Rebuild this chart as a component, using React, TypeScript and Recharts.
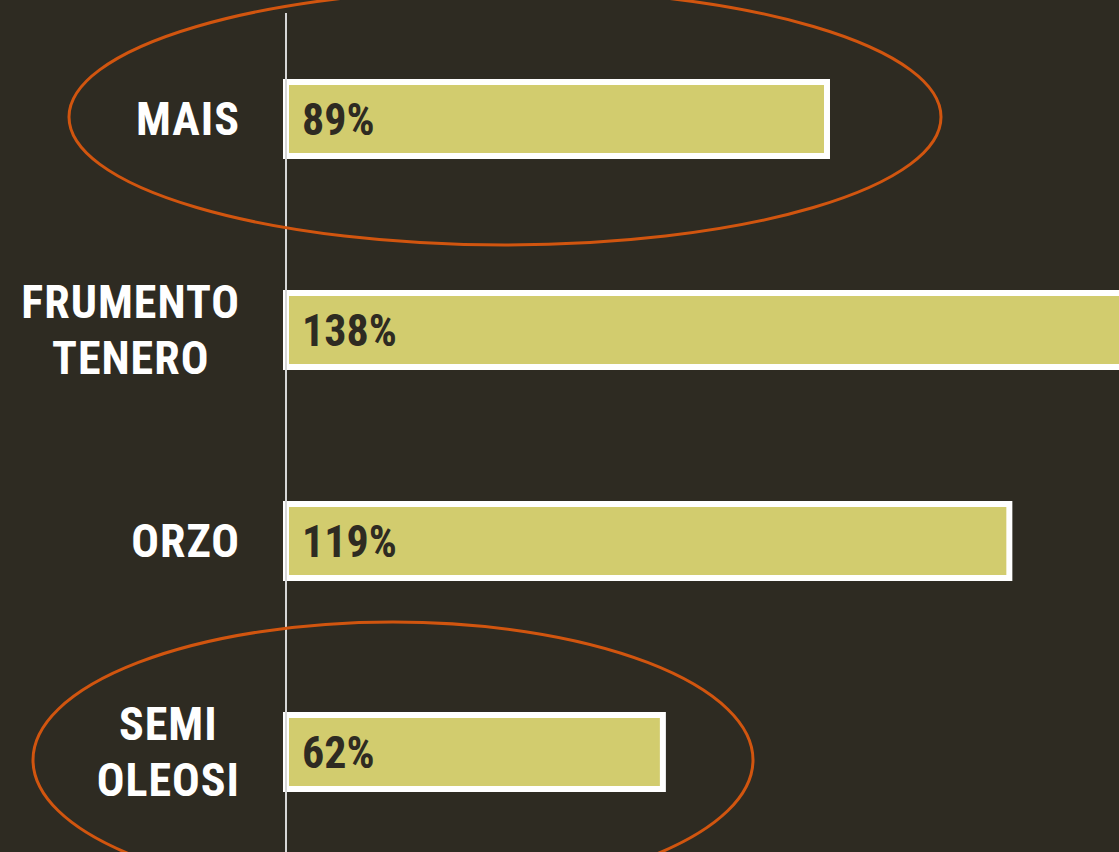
import React from "react";
import { Bar, BarChart, LabelList, XAxis, YAxis } from "recharts";

const categories = ["MAIS", "FRUMENTO TENERO", "ORZO", "SEMI OLEOSI"];
const labelLines = [["MAIS"], ["FRUMENTO", "TENERO"], ["ORZO"], ["SEMI", "OLEOSI"]];
const values = [89, 138, 119, 62];

const BG = "#2e2b22";
const BAR = "#d2cc6e";
const ORANGE = "#d1550f";
const FONT = "'Liberation Sans Narrow', 'Roboto Condensed', Roboto, sans-serif";

const data = categories.map((c, i) => ({ name: c, lines: labelLines[i], value: values[i] }));

let ctx: CanvasRenderingContext2D | null = null;
function measure(s: string, size: number) {
  if (!ctx) ctx = document.createElement("canvas").getContext("2d");
  if (!ctx) return s.length * size * 0.5;
  ctx.font = `700 ${size}px ${FONT}`;
  return ctx.measureText(s).width + s.length * 1;
}

function CatTick(props: any) {
  const { x, y, payload } = props;
  const idx = categories.indexOf(payload.value);
  const lines = labelLines[idx] || [payload.value];
  const size = 46;
  const w = Math.max(...lines.map((l) => measure(l, size)));
  const right = x - 38;
  const cx = right - w / 2;
  const lh = 56;
  const first = y + 16 - ((lines.length - 1) * lh) / 2;
  return (
    <text
      x={cx}
      textAnchor="middle"
      fill="#ffffff"
      fontFamily={FONT}
      fontWeight={700}
      fontSize={size}
      letterSpacing={1}
    >
      {lines.map((l, i) => (
        <tspan key={l} x={cx} y={first + i * lh}>
          {l}
        </tspan>
      ))}
    </text>
  );
}

export default function App() {
  return (
    <div style={{ position: "fixed", left: 0, top: 0, width: 1119, height: 852, overflow: "hidden", background: BG }}>
      <BarChart
        layout="vertical"
        width={1137}
        height={857}
        data={data}
        margin={{ top: 13, right: 0, left: 0, bottom: 0 }}
        barCategoryGap={0}
      >
        <XAxis type="number" domain={[0, 140]} hide />
        <YAxis
          type="category"
          dataKey="name"
          width={286}
          tickLine={false}
          axisLine={{ stroke: "#d6d6d6", strokeWidth: 2 }}
          tick={<CatTick />}
          interval={0}
        />
        <Bar dataKey="value" fill={BAR} stroke="#ffffff" strokeWidth={6} barSize={74} isAnimationActive={false}>
          <LabelList
            dataKey="value"
            position="insideLeft"
            offset={16}
            formatter={(v: any) => `${v}%`}
            fill={BG}
            fontFamily={FONT}
            fontWeight={700}
            fontSize={44}
          />
        </Bar>
      </BarChart>
      <svg width={1119} height={852} style={{ position: "absolute", left: 0, top: 0, pointerEvents: "none" }}>
        <ellipse cx={505} cy={117} rx={436} ry={128} fill="none" stroke={ORANGE} strokeWidth={3} />
        <ellipse cx={393} cy={760} rx={360} ry={138} fill="none" stroke={ORANGE} strokeWidth={3} />
      </svg>
    </div>
  );
}
